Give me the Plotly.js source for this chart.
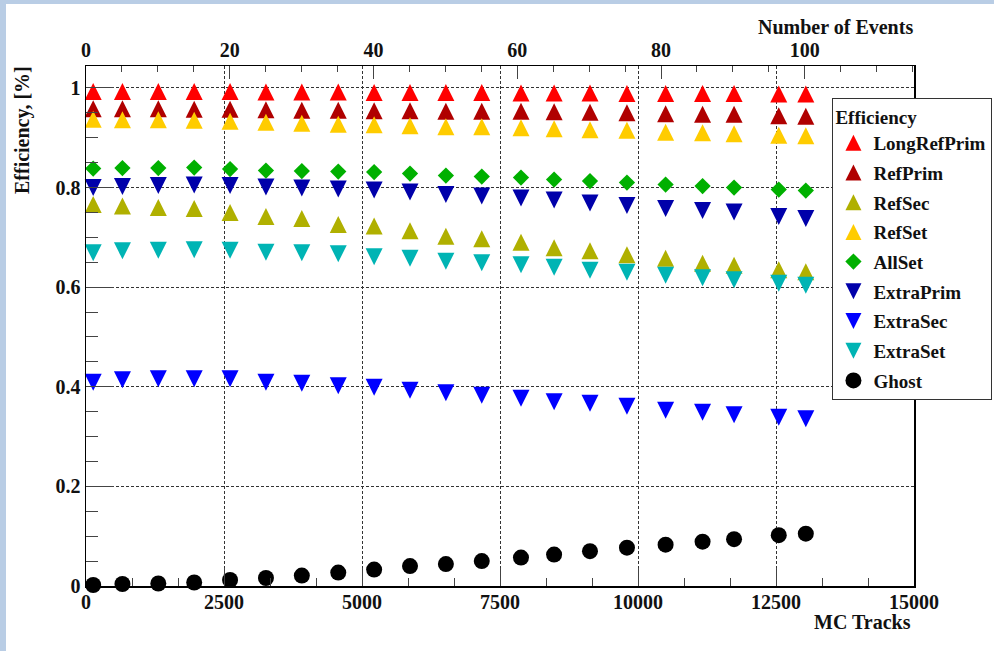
<!DOCTYPE html>
<html>
<head>
<meta charset="utf-8">
<script src="https://cdn.plot.ly/plotly-3.0.1.min.js"></script>
<style>
  html, body { margin: 0; padding: 0; background: #b9cde5; width: 994px; height: 651px; overflow: hidden; }
  #chart { position: absolute; left: 6px; top: 4px; width: 988px; height: 647px; background: #fff; }
</style>
</head>
<body>
<div id="chart"></div>
<script>
// MC tracks (x) for each measurement point
const mcTracks = [130, 660, 1310, 1960, 2610, 3260, 3910, 4570, 5220, 5870, 6520, 7170, 7880, 8480, 9130, 9800, 10500, 11170, 11740, 12550, 13040];

const longRefPrim = [0.993, 0.993, 0.993, 0.993, 0.993, 0.992, 0.992, 0.992, 0.991, 0.991, 0.991, 0.991, 0.990, 0.990, 0.990, 0.989, 0.989, 0.989, 0.989, 0.988, 0.988];
const refPrim     = [0.958, 0.958, 0.958, 0.957, 0.957, 0.956, 0.955, 0.955, 0.954, 0.954, 0.953, 0.953, 0.953, 0.952, 0.951, 0.950, 0.948, 0.947, 0.947, 0.944, 0.943];
const refSec      = [0.766, 0.763, 0.760, 0.758, 0.750, 0.742, 0.738, 0.726, 0.723, 0.713, 0.702, 0.697, 0.690, 0.679, 0.673, 0.665, 0.658, 0.648, 0.644, 0.635, 0.631];
const refSet      = [0.937, 0.936, 0.936, 0.935, 0.933, 0.931, 0.929, 0.927, 0.926, 0.924, 0.922, 0.922, 0.920, 0.918, 0.916, 0.915, 0.911, 0.910, 0.908, 0.905, 0.904];
const allSet      = [0.838, 0.839, 0.839, 0.840, 0.837, 0.834, 0.833, 0.832, 0.831, 0.828, 0.824, 0.822, 0.820, 0.816, 0.813, 0.810, 0.806, 0.803, 0.800, 0.796, 0.794];
const extraPrim   = [0.800, 0.802, 0.804, 0.805, 0.804, 0.801, 0.799, 0.797, 0.795, 0.791, 0.786, 0.783, 0.779, 0.775, 0.769, 0.764, 0.758, 0.754, 0.751, 0.742, 0.738];
const extraSec    = [0.409, 0.414, 0.416, 0.416, 0.416, 0.409, 0.407, 0.402, 0.399, 0.393, 0.388, 0.383, 0.377, 0.370, 0.367, 0.361, 0.353, 0.349, 0.344, 0.339, 0.336];
const extraSet    = [0.669, 0.673, 0.674, 0.675, 0.674, 0.670, 0.669, 0.667, 0.661, 0.658, 0.652, 0.649, 0.645, 0.640, 0.634, 0.630, 0.624, 0.619, 0.615, 0.608, 0.604];
const ghost       = [0.002, 0.004, 0.005, 0.007, 0.012, 0.016, 0.021, 0.027, 0.033, 0.040, 0.044, 0.050, 0.057, 0.063, 0.070, 0.077, 0.083, 0.089, 0.094, 0.102, 0.105];

const seriesNames  = ['LongRefPrim', 'RefPrim', 'RefSec', 'RefSet', 'AllSet', 'ExtraPrim', 'ExtraSec', 'ExtraSet', 'Ghost'];
const seriesValues = [longRefPrim, refPrim, refSec, refSet, allSet, extraPrim, extraSec, extraSet, ghost];
const seriesColors = ['#ff0000', '#b00000', '#b0b000', '#ffcc00', '#00b000', '#0000aa', '#0000ff', '#00b4b4', '#000000'];
const seriesShapes = ['up', 'up', 'up', 'up', 'diamond', 'down', 'down', 'down', 'circle'];

const eventsTicks = [0, 20, 40, 60, 80, 100];

const FONT = 'Liberation Serif, Times New Roman, serif';
const TRI = 17;
const LEG = 16;

// markers drawn in the plot: ROOT-like equilateral triangles centred on the point
function markerFor(shape, color) {
  if (shape === 'up')   return {symbol: 'arrow-down', angle: 180, standoff: TRI / 2, size: TRI, color: color, line: {width: 0}};
  if (shape === 'down') return {symbol: 'arrow-down', angle: 0, standoff: TRI / 2, size: TRI, color: color, line: {width: 0}};
  if (shape === 'diamond') return {symbol: 'diamond', size: 12.5, color: color, line: {width: 0}};
  return {symbol: 'circle', size: 16, color: color, line: {width: 0}};
}
// markers used for the legend swatches (legend applies standoff in the other direction)
function legendMarkerFor(shape, color) {
  if (shape === 'up')   return {symbol: 'arrow-up', angle: 0, standoff: LEG / 2, size: LEG, color: color, line: {width: 0}};
  if (shape === 'down') return {symbol: 'arrow-up', angle: 180, standoff: LEG / 2, size: LEG, color: color, line: {width: 0}};
  if (shape === 'diamond') return {symbol: 'diamond', size: 12.5, color: color, line: {width: 0}};
  return {symbol: 'circle', size: 16, color: color, line: {width: 0}};
}

const traces = seriesNames.map((name, i) => ({
  type: 'scatter',
  mode: 'markers',
  name: name,
  showlegend: false,
  x: mcTracks,
  y: seriesValues[i],
  xaxis: 'x',
  yaxis: 'y',
  cliponaxis: false,
  marker: markerFor(seriesShapes[i], seriesColors[i]),
  hoverinfo: 'x+y+name'
}));

// legend entries
seriesNames.forEach((name, i) => {
  traces.push({
    type: 'scatter', mode: 'markers', name: name, legendgroup: name,
    x: [null], y: [null], xaxis: 'x', yaxis: 'y', showlegend: true,
    marker: legendMarkerFor(seriesShapes[i], seriesColors[i]), hoverinfo: 'skip'
  });
});

const tickFont = {family: FONT, size: 20, color: '#111', weight: 'bold'};

const layout = {
  width: 988,
  height: 647,
  margin: {l: 80, r: 80, t: 62, b: 65, autoexpand: false},
  paper_bgcolor: '#ffffff',
  plot_bgcolor: '#ffffff',
  showlegend: true,
  legend: {
    x: 0.9015, y: 0.938, xanchor: 'left', yanchor: 'top',
    bgcolor: '#ffffff', bordercolor: '#333', borderwidth: 1,
    font: {family: FONT, size: 19, color: '#111', weight: 'bold'},
    title: {text: 'Efficiency', font: {family: FONT, size: 19, color: '#111', weight: 'bold'}},
    traceorder: 'grouped',
    tracegroupgap: 2,
    entrywidth: 130,
    itemclick: false
  },
  xaxis: {
    range: [0, 15000],
    dtick: 2500, tick0: 0,
    ticks: 'inside', ticklen: 18, tickwidth: 1, tickcolor: '#444',
    minor: {dtick: 2500 / 3, ticks: 'inside', ticklen: 8, tickwidth: 1, tickcolor: '#444', showgrid: false},
    showline: true, linecolor: '#000', linewidth: 1.5,
    showgrid: true, gridcolor: '#333', gridwidth: 1, griddash: '3px,2px',
    zeroline: false,
    tickfont: tickFont,
    ticklabelstandoff: -3,
    tickformat: 'd'
  },
  xaxis2: {
    overlaying: 'x', side: 'top', anchor: 'y',
    range: [0, 115.2],
    tickvals: eventsTicks,
    ticks: 'inside', ticklen: 13, tickwidth: 1, tickcolor: '#444',
    minor: {dtick: 5, tick0: 0, ticks: 'inside', ticklen: 6, tickwidth: 1, tickcolor: '#444', showgrid: false},
    showline: true, linecolor: '#000', linewidth: 1.5,
    showgrid: false, zeroline: false,
    tickfont: tickFont
  },
  yaxis: {
    range: [0, 1.044],
    dtick: 0.2, tick0: 0,
    ticks: 'inside', ticklen: 28, tickwidth: 1, tickcolor: '#444',
    minor: {dtick: 0.05, ticks: 'inside', ticklen: 12, tickwidth: 1, tickcolor: '#444', showgrid: false},
    showline: true, mirror: true, linecolor: '#000', linewidth: 1.5,
    showgrid: true, gridcolor: '#333', gridwidth: 1, griddash: '3px,2px',
    zeroline: false,
    tickfont: tickFont
  },
  annotations: [
    {text: 'Number of Events', xref: 'paper', yref: 'paper', x: 1.0012, y: 1.075, xanchor: 'right', yanchor: 'middle', showarrow: false,
     font: {family: FONT, size: 20, color: '#111', weight: 'bold'}},
    {text: 'MC Tracks', xref: 'paper', yref: 'paper', x: 0.9988, y: -0.069, xanchor: 'right', yanchor: 'middle', showarrow: false,
     font: {family: FONT, size: 20, color: '#111', weight: 'bold'}},
    {text: 'Efficiency, [%]', xref: 'paper', yref: 'paper', x: -0.076, y: 0.877, xanchor: 'center', yanchor: 'middle', textangle: -90, showarrow: false,
     font: {family: FONT, size: 20, color: '#111', weight: 'bold'}}
  ]
};

// invisible trace so the top axis is attached to data
traces.push({type: 'scatter', mode: 'markers', x: [0, 115.2], y: [null, null], xaxis: 'x2', yaxis: 'y', showlegend: false, hoverinfo: 'skip', marker: {opacity: 0}});

Plotly.newPlot('chart', traces, layout, {displayModeBar: false, staticPlot: true});
</script>
</body>
</html>
